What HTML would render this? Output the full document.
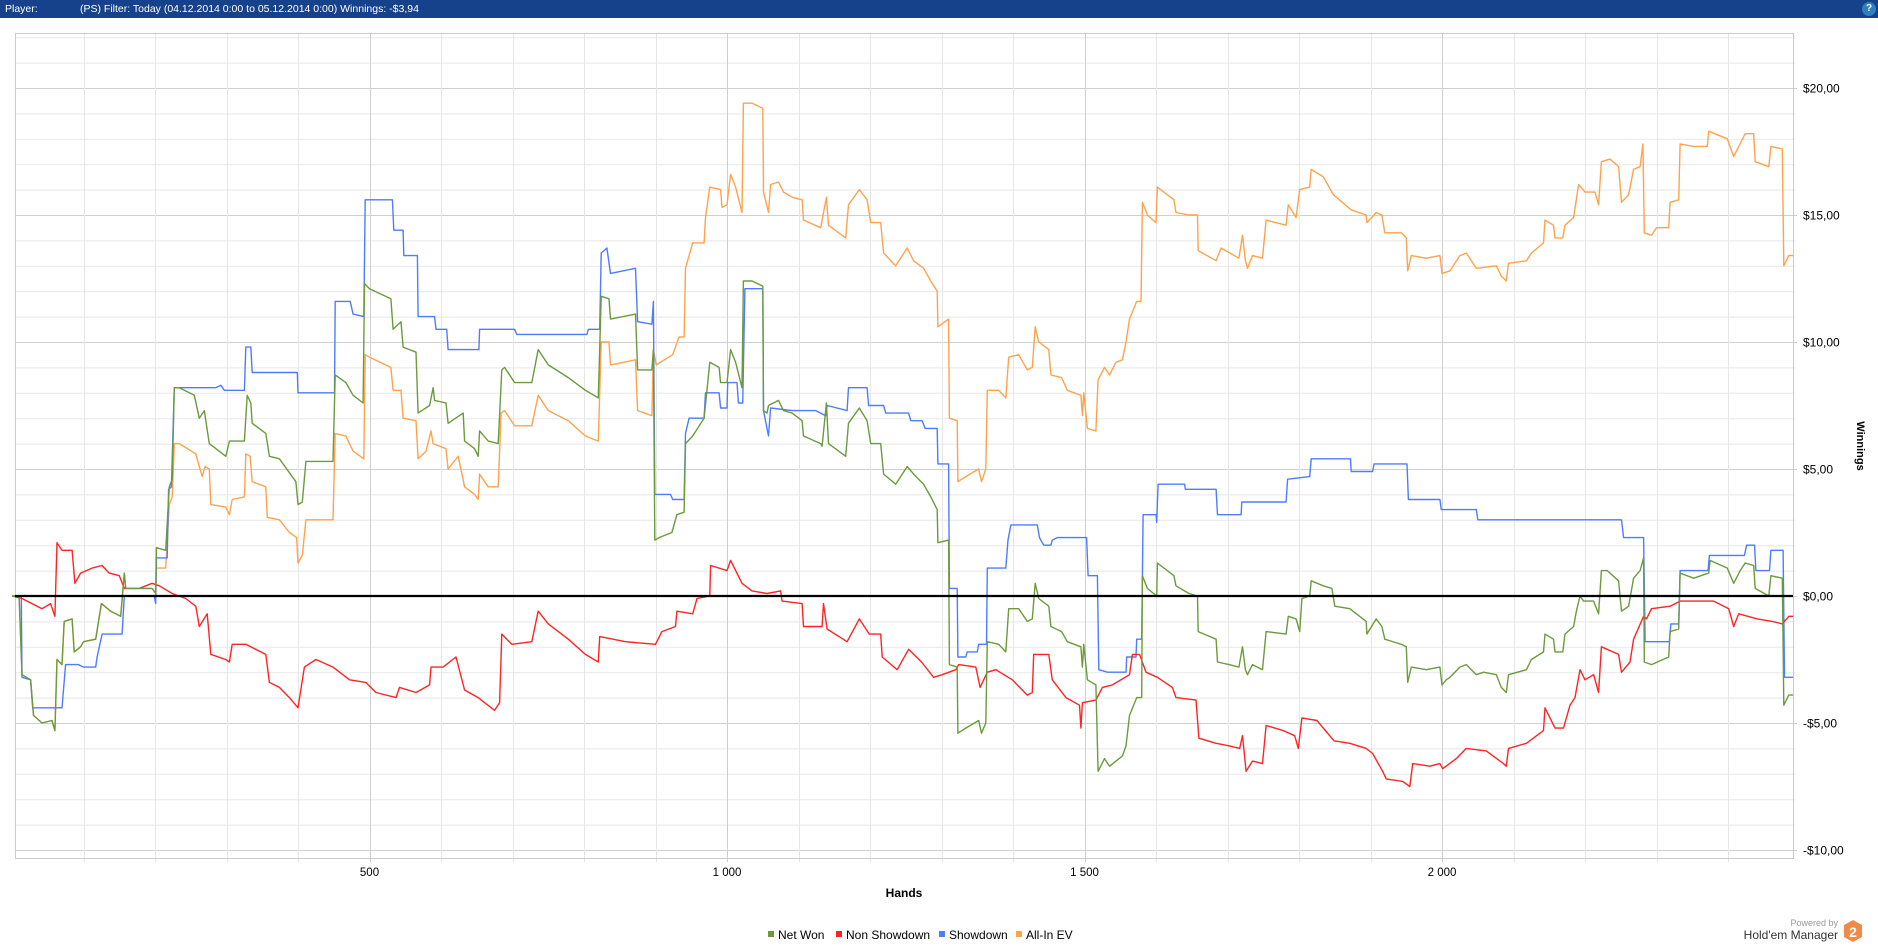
<!DOCTYPE html>
<html><head><meta charset="utf-8"><style>
html,body{margin:0;padding:0;background:#fff;width:1878px;height:948px;overflow:hidden;font-family:"Liberation Sans",sans-serif}
#hdr{position:absolute;left:0;top:0;width:1878px;height:18px;background:#16418b;color:#fff;font-size:10.5px;line-height:18px}
</style></head><body>
<div id="hdr">
<span style="position:absolute;left:5px">Player:</span>
<span style="position:absolute;left:80px">(PS) Filter: Today (04.12.2014 0:00 to 05.12.2014 0:00) Winnings: -$3,94</span>
<span style="position:absolute;left:1862px;top:2px;width:14px;height:14px;border-radius:7px;background:#2f7fc0;color:#fff;font-size:10px;line-height:14px;text-align:center;font-weight:bold">?</span>
</div>
<svg id="chart" width="1878" height="948" style="position:absolute;left:0;top:0"></svg>
<script>
const xTicks=[500,1000,1500,2000];
const xTickLabels=["500","1 000","1 500","2 000"];
const yTicks=[20,15,10,5,0,-5,-10];
const yTickLabels=["$20,00","$15,00","$10,00","$5,00","$0,00","-$5,00","-$10,00"];
const seriesNames=["Net Won","Non Showdown","Showdown","All-In EV"];
const seriesColors=["#6b9b3c","#ff2424","#4d7cff","#ffa24d"];

const netHands=[0,10,14,26,30,42,56,60,63,70,73,84,87,96,100,117,125,138,152,157,159,196,201,202,215,220,224,227,234,255,262,269,276,299,304,308,325,329,334,336,355,360,374,397,400,406,411,449,452,467,477,491,493,500,530,533,544,547,565,568,584,589,591,607,610,631,633,647,652,654,666,680,685,689,703,727,736,750,778,802,820,824,835,837,872,875,895,897,899,905,923,930,940,942,952,968,976,989,991,1000,1005,1012,1021,1023,1035,1050,1051,1056,1058,1072,1079,1091,1105,1107,1131,1133,1139,1142,1166,1170,1185,1196,1201,1215,1219,1236,1252,1261,1275,1285,1294,1295,1310,1311,1322,1323,1334,1352,1356,1362,1364,1380,1390,1394,1408,1420,1427,1431,1436,1450,1453,1468,1476,1495,1497,1499,1504,1516,1519,1528,1535,1544,1553,1558,1563,1573,1580,1581,1588,1601,1602,1625,1628,1646,1658,1659,1684,1686,1702,1716,1721,1725,1728,1735,1749,1754,1782,1785,1796,1801,1804,1815,1817,1834,1846,1850,1871,1894,1895,1908,1916,1920,1943,1950,1952,1957,1978,1997,2000,2006,2011,2025,2034,2048,2058,2076,2083,2090,2093,2118,2125,2142,2144,2156,2158,2169,2172,2184,2188,2193,2198,2212,2219,2223,2231,2247,2251,2261,2268,2277,2282,2283,2293,2317,2319,2331,2333,2352,2373,2375,2399,2408,2417,2424,2436,2438,2457,2460,2476,2478,2485,2491];
const netValues=[0,0,-3.1,-3.3,-4.7,-5.0,-4.9,-5.3,-2.5,-2.7,-1.0,-0.9,-2.2,-2.0,-1.8,-1.7,-0.3,-0.6,-0.8,0.9,0.3,0.3,0.1,1.9,1.8,4.3,4.6,8.2,8.2,7.9,7.0,7.3,6.0,5.5,6.1,6.1,6.1,7.9,7.6,6.8,6.4,5.5,5.4,4.5,3.6,3.7,5.3,5.3,8.7,8.4,7.9,7.6,12.3,12.1,11.7,10.5,10.8,9.8,9.6,7.2,7.5,8.2,7.7,7.6,6.8,7.2,6.1,5.8,5.5,6.5,6.1,6.0,8.9,9.0,8.4,8.4,9.7,9.1,8.6,8.1,7.8,11.8,11.7,10.9,11.1,8.9,8.9,9.7,2.2,2.3,2.5,3.2,3.3,6.0,6.3,7.0,9.2,9.0,8.4,8.4,9.7,9.2,8.2,12.4,12.4,12.2,7.3,7.2,7.5,7.7,7.3,7.2,6.9,6.3,6.0,5.9,7.6,6.0,5.5,6.8,7.4,6.9,6.0,6.0,4.8,4.4,5.1,4.8,4.4,3.9,3.4,2.1,2.2,-2.7,-2.8,-5.4,-5.2,-4.9,-5.4,-5.0,-1.8,-1.9,-2.2,-0.5,-0.5,-1.0,-0.9,0.5,-0.1,-0.4,-1.2,-1.4,-1.8,-2.0,-2.8,-1.9,-3.3,-3.5,-6.9,-6.4,-6.7,-6.5,-6.3,-5.9,-4.7,-4.0,-4.0,0.8,0.3,0.0,1.3,0.8,0.4,0.1,0.0,-1.4,-1.7,-2.6,-2.7,-2.8,-2.0,-2.9,-3.1,-2.7,-2.9,-1.4,-1.5,-0.8,-0.9,-1.4,-0.1,0.0,0.6,0.4,0.3,-0.4,-0.5,-1.0,-1.5,-0.9,-1.2,-1.7,-1.9,-2.0,-3.4,-2.8,-2.9,-2.8,-3.5,-3.3,-3.2,-2.8,-2.7,-3.1,-3.0,-3.1,-3.6,-3.8,-3.1,-2.9,-2.5,-2.2,-1.5,-1.7,-2.2,-2.2,-1.5,-1.2,-0.6,0.0,-0.2,-0.2,-0.7,1.0,1.0,0.6,-0.6,-0.4,0.7,1.0,1.5,-2.6,-2.7,-2.4,-1.4,-1.3,0.9,0.7,0.9,1.4,1.1,0.5,1.0,1.3,1.2,0.3,0.0,0.8,0.7,-4.3,-3.9,-3.9];

const nsHands=[0,14,28,42,54,60,63,70,84,88,96,112,126,136,150,157,178,196,206,224,243,257,262,273,278,299,304,308,327,355,360,374,388,400,409,425,449,472,495,509,537,542,565,584,586,603,621,633,652,661,675,682,685,699,727,736,750,778,802,820,822,858,900,909,928,930,952,958,976,977,1000,1005,1021,1035,1056,1075,1077,1105,1107,1133,1135,1140,1168,1185,1199,1215,1217,1238,1254,1272,1289,1301,1320,1324,1348,1354,1364,1376,1399,1420,1427,1429,1450,1455,1474,1493,1495,1497,1516,1525,1539,1563,1567,1577,1586,1602,1623,1628,1656,1660,1684,1703,1717,1721,1726,1735,1749,1754,1778,1794,1799,1804,1825,1849,1871,1894,1903,1917,1922,1945,1955,1959,1983,1997,2001,2020,2034,2062,2086,2090,2093,2118,2142,2144,2158,2170,2179,2186,2193,2200,2212,2219,2223,2247,2251,2263,2268,2282,2286,2293,2319,2333,2358,2380,2401,2408,2415,2441,2462,2476,2485,2491];
const nsValues=[0,-0.1,-0.3,-0.5,-0.3,-0.8,2.1,1.8,1.8,0.5,0.9,1.1,1.2,0.9,0.8,0.3,0.3,0.5,0.4,0.1,-0.1,-0.4,-1.2,-0.7,-2.3,-2.5,-2.6,-1.9,-1.9,-2.3,-3.4,-3.6,-4.0,-4.4,-2.8,-2.5,-2.8,-3.3,-3.4,-3.8,-4.0,-3.6,-3.8,-3.5,-2.8,-2.8,-2.4,-3.7,-4.0,-4.2,-4.5,-4.2,-1.5,-1.9,-1.8,-0.6,-1.1,-1.7,-2.3,-2.6,-1.6,-1.8,-1.9,-1.4,-1.2,-0.6,-0.7,-0.1,0,1.2,1.0,1.4,0.5,0.2,0.1,0.2,-0.2,-0.3,-1.2,-1.2,-0.3,-1.3,-1.8,-0.9,-1.5,-1.5,-2.4,-2.9,-2.1,-2.6,-3.2,-3.1,-2.9,-2.7,-2.8,-3.6,-3.0,-2.9,-3.3,-3.9,-3.8,-2.3,-2.3,-3.3,-4.0,-4.3,-5.2,-4.2,-4.1,-3.6,-3.5,-3.1,-2.3,-2.3,-3.0,-3.2,-3.6,-4.0,-4.1,-5.6,-5.8,-5.9,-6.0,-5.5,-6.9,-6.5,-6.6,-5.1,-5.3,-5.5,-6.0,-4.8,-4.9,-5.7,-5.8,-6.0,-6.2,-6.9,-7.2,-7.3,-7.5,-6.6,-6.7,-6.6,-6.8,-6.4,-6.0,-6.1,-6.6,-6.7,-6.0,-5.8,-5.3,-4.4,-5.2,-5.2,-4.3,-4.0,-2.9,-3.3,-3.1,-3.8,-2.0,-2.3,-3.0,-2.6,-1.7,-0.8,-0.9,-0.5,-0.4,-0.2,-0.2,-0.2,-0.5,-1.2,-0.7,-0.9,-1.0,-1.1,-0.8,-0.8];

const sdHands=[0,13,14,26,29,70,75,93,100,117,119,126,154,157,199,201,202,217,219,223,227,285,292,297,325,327,334,336,399,400,451,452,473,477,492,494,532,534,547,548,567,568,591,593,608,610,653,654,703,706,804,806,822,824,832,837,872,875,895,897,899,921,924,940,942,947,968,970,989,991,1000,1001,1014,1016,1022,1025,1050,1051,1058,1061,1091,1124,1138,1140,1168,1170,1196,1198,1219,1222,1254,1257,1273,1277,1294,1295,1310,1311,1322,1323,1334,1336,1350,1352,1363,1364,1390,1393,1397,1434,1437,1443,1453,1455,1462,1503,1505,1518,1520,1532,1558,1559,1572,1573,1580,1582,1600,1601,1603,1640,1641,1684,1686,1719,1720,1782,1784,1815,1817,1872,1873,1903,1905,1951,1953,1997,1999,2048,2050,2251,2254,2282,2284,2318,2320,2331,2333,2372,2374,2423,2426,2437,2439,2458,2460,2477,2479,2491];
const sdValues=[0,0,-3.2,-3.3,-4.4,-4.4,-2.7,-2.7,-2.8,-2.8,-2.4,-1.5,-1.5,0,0,-0.3,1.5,1.5,4.2,4.3,8.2,8.2,8.3,8.1,8.1,9.8,9.8,8.8,8.8,8.0,8.0,11.6,11.6,11.1,11.0,15.6,15.6,14.4,14.4,13.4,13.4,11.0,11.0,10.5,10.5,9.7,9.7,10.5,10.5,10.3,10.3,10.5,10.5,13.5,13.7,12.7,12.9,10.8,10.7,11.6,4.0,4.0,3.8,3.8,6.4,7.0,7.0,8.0,8.0,7.4,7.4,8.4,8.4,7.6,7.6,12.1,12.1,7.3,6.3,7.4,7.3,7.3,7.1,7.5,7.3,8.2,8.2,7.5,7.5,7.2,7.2,6.9,6.9,6.6,6.6,5.2,5.2,0.3,0.3,-2.4,-2.4,-2.2,-2.2,-1.9,-1.9,1.1,1.1,2.2,2.8,2.8,2.3,2.0,2.0,2.2,2.3,2.3,0.8,0.8,-2.9,-3.0,-3.0,-2.4,-2.4,-1.7,-1.7,3.2,3.2,2.9,4.4,4.4,4.2,4.2,3.2,3.2,3.7,3.7,4.6,4.7,5.4,5.4,4.9,4.9,5.2,5.2,3.8,3.8,3.4,3.4,3.0,3.0,2.3,2.3,-1.8,-1.8,-1.1,-1.1,1.0,1.0,1.6,1.6,2.0,2.0,1.0,1.0,1.8,1.8,-3.2,-3.2];

const evHands=[0,10,14,26,30,42,56,60,63,70,73,84,87,96,100,117,125,138,152,157,159,196,201,202,215,220,224,227,234,257,262,266,270,276,278,299,304,308,325,327,333,336,355,357,374,388,398,400,406,411,449,452,467,477,492,494,500,530,533,544,547,565,568,579,586,589,607,610,624,633,647,652,654,666,680,684,689,703,727,736,750,778,802,820,824,835,837,872,875,895,897,901,924,933,940,942,952,968,970,976,991,993,1000,1005,1012,1021,1023,1035,1050,1051,1058,1061,1072,1079,1091,1105,1107,1131,1139,1142,1166,1170,1185,1196,1201,1215,1219,1236,1252,1261,1275,1285,1294,1295,1310,1311,1322,1323,1334,1352,1356,1362,1364,1380,1390,1394,1408,1420,1427,1431,1436,1450,1453,1468,1476,1495,1497,1499,1504,1516,1519,1528,1535,1544,1553,1558,1563,1573,1579,1581,1588,1600,1602,1625,1628,1646,1658,1659,1684,1691,1716,1721,1725,1728,1735,1749,1754,1782,1785,1796,1801,1815,1817,1834,1848,1873,1894,1895,1908,1916,1920,1943,1950,1952,1957,1978,1997,2000,2011,2025,2034,2048,2076,2083,2090,2093,2118,2125,2142,2144,2156,2158,2169,2172,2184,2191,2200,2214,2219,2223,2235,2247,2251,2261,2268,2277,2281,2283,2293,2300,2317,2319,2331,2333,2352,2371,2373,2399,2408,2415,2424,2436,2438,2457,2460,2476,2478,2485,2491];
const evValues=[0,0,-3.1,-3.3,-4.7,-5.0,-4.9,-5.3,-2.5,-2.7,-1.0,-0.9,-2.2,-2.0,-1.8,-1.7,-0.3,-0.6,-0.8,0.9,0.3,0.3,0.1,1.1,1.1,3.6,3.9,6.0,6.0,5.6,5.1,4.7,5.1,5.0,3.6,3.5,3.2,3.8,3.9,5.6,5.5,4.5,4.3,3.1,3.0,2.5,2.3,1.3,1.6,3.0,3.0,6.4,6.3,5.7,5.4,9.5,9.4,9.0,8.1,8.1,7.0,6.9,5.4,5.7,6.5,6.0,5.8,5.0,5.5,4.3,4.0,3.8,4.8,4.3,4.3,7.2,7.3,6.7,6.7,7.9,7.3,6.9,6.3,6.1,10.0,10.0,9.1,9.3,7.3,7.1,9.7,9.1,9.5,10.2,10.2,12.9,13.9,13.9,14.9,16.1,16.0,15.3,15.4,16.6,16.1,15.1,19.4,19.4,19.2,15.9,15.1,16.2,16.3,15.9,15.7,15.6,14.8,14.5,15.7,14.6,14.1,15.4,16.0,15.6,14.7,14.7,13.5,13.0,13.7,13.2,12.9,12.4,12.0,10.6,10.9,7.0,6.9,4.5,4.7,5.0,4.5,5.0,8.1,8.1,7.8,9.4,9.5,8.9,9.0,10.6,10.0,9.7,8.7,8.6,8.1,7.9,7.1,8.0,6.6,6.5,8.5,9.0,8.7,9.2,9.3,10.0,10.9,11.6,11.6,15.5,15.0,14.7,16.1,15.6,15.1,15.0,15.0,13.6,13.2,13.7,13.3,14.2,13.2,12.9,13.4,13.3,14.8,14.6,15.4,14.9,16.0,16.1,16.8,16.5,15.8,15.2,15.0,14.7,15.1,15.0,14.3,14.3,14.1,12.8,13.4,13.3,13.4,12.7,12.8,13.4,13.5,12.9,13.0,12.6,12.4,13.1,13.2,13.5,13.9,14.8,14.6,14.1,14.1,14.6,14.9,16.2,15.9,15.9,15.4,17.1,17.2,16.9,15.5,15.8,16.8,16.9,17.8,14.3,14.2,14.5,14.5,15.5,15.6,17.8,17.7,17.7,18.3,18.0,17.3,17.7,18.2,18.2,17.1,16.9,17.7,17.6,13.0,13.4,13.4];

const NS="http://www.w3.org/2000/svg";
const svg=document.getElementById('chart');
const L=15,R=1793,T=33,B=858;
function xs(h){return 12+h*0.715;}
function ys(v){return 596-v*25.4;}
function mk(tag,attrs,parent){const e=document.createElementNS(NS,tag);for(const k in attrs)e.setAttribute(k,attrs[k]);(parent||svg).appendChild(e);return e;}

for(let v=-10;v<=22;v++){
  const major=v%5===0;
  const g=mk('line',{x1:L,x2:major?1797:1795,y1:ys(v)+0.5,y2:ys(v)+0.5,stroke:major?'#cfcfcf':'#e8e8e8','stroke-width':1});
  
  
}
for(let h=100;h<2491;h+=100){
  const major=h%500===0;
  const g=mk('line',{x1:Math.round(xs(h))+0.5,x2:Math.round(xs(h))+0.5,y1:T,y2:B+4,stroke:major?'#cfcfcf':'#e6e6e6','stroke-width':1});
  
  
}
const frame=mk('rect',{x:L+0.5,y:T+0.5,width:R-L,height:B-T,fill:'none',stroke:'#cccccc','stroke-width':1});



const seriesData=[[netHands,netValues],[nsHands,nsValues],[sdHands,sdValues],[evHands,evValues]];
const seriesKeys=['net-won-line','non-showdown-line','showdown-line','all-in-ev-line'];
[3,2,1,0].forEach(i=>{
  const [hs,vs]=seriesData[i];
  const pts=hs.map((h,j)=>xs(h).toFixed(1)+','+ys(vs[j]).toFixed(1)).join(' ');
  const p=mk('polyline',{points:pts,fill:'none',stroke:seriesColors[i],'stroke-width':1.4,'stroke-linejoin':'round'});
  
  
});
const zl=mk('line',{x1:L,x2:R,y1:ys(0),y2:ys(0),stroke:'#000','stroke-width':2.2});



yTicks.forEach((v,i)=>{
  const t=mk('text',{x:1803,y:ys(v)+4.5,'font-size':12,fill:'#000','font-family':'Liberation Sans, sans-serif'});
  t.textContent=yTickLabels[i];
  
  
});
xTicks.forEach((h,i)=>{
  const t=mk('text',{x:xs(h),y:876,'font-size':11.5,fill:'#000','text-anchor':'middle','font-family':'Liberation Sans, sans-serif'});
  t.textContent=xTickLabels[i];
  
  
});
const xt=mk('text',{x:904,y:897,'font-size':12,'font-weight':'bold',fill:'#000','text-anchor':'middle','font-family':'Liberation Sans, sans-serif'});
xt.textContent='Hands';


const yt=mk('text',{x:0,y:0,'font-size':11,'font-weight':'bold',fill:'#000','text-anchor':'middle',transform:'translate(1857,446) rotate(90)','font-family':'Liberation Sans, sans-serif'});
yt.textContent='Winnings';



const legX=[768,836,939,1016];
seriesNames.forEach((n,i)=>{
  const g=mk('g',{});
  
  
  mk('rect',{x:legX[i],y:931,width:6,height:6,fill:seriesColors[i]},g);
  const t=mk('text',{x:legX[i]+10,y:939,'font-size':12,fill:'#000','font-family':'Liberation Sans, sans-serif'},g);
  t.textContent=n;
});

const pb=mk('text',{x:1838,y:926,'font-size':9,fill:'#999','text-anchor':'end','font-family':'Liberation Sans, sans-serif'});
pb.textContent='Powered by';


const hm=mk('text',{x:1838,y:939,'font-size':12,fill:'#333','text-anchor':'end','font-family':'Liberation Sans, sans-serif'});
hm.textContent="Hold'em Manager";


const hex=mk('polygon',{points:'1853,920 1862,925 1862,937 1853,942 1844,937 1844,925',fill:'#f08a4b'});


const two=mk('text',{x:1853,y:937,'font-size':14,'font-weight':'bold',fill:'#fff','text-anchor':'middle','font-family':'Liberation Sans, sans-serif'});
two.textContent='2';


</script>
</body></html>
